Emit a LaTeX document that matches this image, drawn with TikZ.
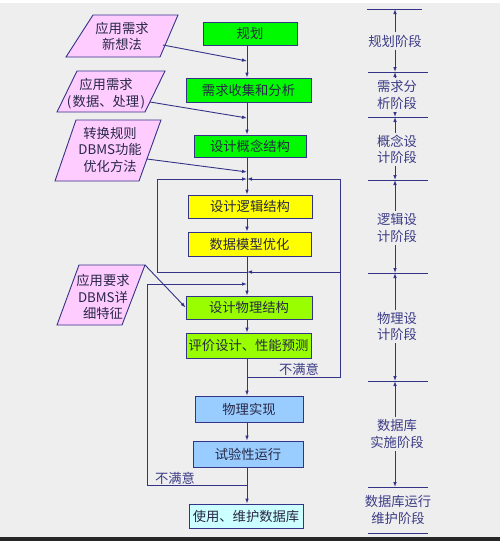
\documentclass[tikz,border=0pt]{standalone}
\usepackage{fontspec}
\setmainfont{Noto Sans CJK SC}
\usetikzlibrary{arrows.meta}
\definecolor{edge}{RGB}{51,51,136}
\definecolor{ink}{RGB}{40,40,70}
\definecolor{navy}{RGB}{60,60,135}
\definecolor{bg}{RGB}{238,238,238}
\definecolor{plangreen}{RGB}{0,250,0}
\definecolor{logicyellow}{RGB}{255,255,0}
\definecolor{physgreen}{RGB}{153,255,0}
\definecolor{implblue}{RGB}{153,204,255}
\definecolor{usecyan}{RGB}{204,255,255}
\definecolor{needpink}{RGB}{255,204,255}

\begin{document}
\begin{tikzpicture}[x=1pt,y=-1pt,line width=0.9pt,
    font=\fontsize{13.3}{16.5}\selectfont,
    >={Latex[length=5pt,width=3.6pt]},
    box/.style={draw=edge,text=ink,inner sep=0pt},
    need/.style={draw=edge,fill=needpink},
    conn/.style={draw=edge,->},
    tag/.style={text=navy,align=center,inner sep=2pt}]
    \fill[bg](0,0)rectangle(500,541);
    \fill[white](0,0)rectangle(500,2.5);
    \fill[black!85](0,537)rectangle(500,541);
    \useasboundingbox(0,0)rectangle(500,541);

    % design steps
    \node[box,fill=plangreen,minimum width=94pt,minimum height=23pt](plan)at(250,33.5){规划};
    \node[box,fill=plangreen,minimum width=125pt,minimum height=24pt](req)at(248.5,90){需求收集和分析};
    \node[box,fill=plangreen,minimum width=112pt,minimum height=22pt](concept)at(250,146){设计概念结构};
    \node[box,fill=logicyellow,minimum width=124pt,minimum height=23pt](logic)at(250,206.5){设计逻辑结构};
    \node[box,fill=logicyellow,minimum width=123pt,minimum height=24pt](optim)at(249.5,244){数据模型优化};
    \node[box,fill=physgreen,minimum width=126pt,minimum height=23pt](phys)at(249,307.5){设计物理结构};
    \node[box,fill=physgreen,minimum width=125pt,minimum height=25pt](eval)at(248.5,345.5){评价设计、性能预测};
    \node[box,fill=implblue,minimum width=108pt,minimum height=26pt](impl)at(249,409){物理实现};
    \node[box,fill=implblue,minimum width=110pt,minimum height=26pt](trial)at(248,454){试验性运行};
    \node[box,fill=usecyan,minimum width=114pt,minimum height=24pt](use)at(246,516){使用、维护数据库};

    % inputs
    \filldraw[need](93,15)--(178,15)--(160,57)--(66,57)--cycle;
    \node[text=ink,align=center](idea)at(122,36.5){应用需求\\新想法};
    \filldraw[need](77,71)--(165,71)--(145,112)--(57,112)--cycle;
    \node[text=ink,align=center](data)at(106,93.5){应用需求\\(\kern1.5pt数据、处理\kern1.5pt)};
    \filldraw[need](76,120)--(161,120)--(139,181)--(55,181)--cycle;
    \node[text=ink,align=center](rule)at(110,149.5){转换规则\\DBMS功能\\优化方法};
    \filldraw[need](79,265)--(145,265)--(122,325)--(57,325)--cycle;
    \node[text=ink,align=center](spec)at(103,297){应用要求\\DBMS详\\细特征};

    \coordinate(spine)at(247,0);
    \coordinate(ideaR)at(163,45);
    \coordinate(dataR)at(150,102);
    \coordinate(ruleR)at(147,159);
    \coordinate(specR)at(145,265);
    \coordinate(j1)at(247,61);
    \coordinate(j2)at(247,118);
    \coordinate(j3)at(247,172);
    \coordinate(topjoin)at(247,179);
    \coordinate(midjoin)at(247,272);
    \coordinate(physjoin)at(247,284);
    \coordinate(evaljoin)at(247,377);
    \coordinate(trialjoin)at(247,485);
    \coordinate(loopL)at(157,179);
    \coordinate(loopR)at(340,179);
    \coordinate(loopC)at(147,284);

    \draw[conn](plan.south-|spine)--(req.north-|spine);
    \draw[conn](req.south-|spine)--(concept.north-|spine);
    \draw[conn](concept.south-|spine)--(logic.north-|spine);
    \draw[conn](logic.south-|spine)--(optim.north-|spine);
    \draw[conn](optim.south-|spine)--(phys.north-|spine);
    \draw[conn](phys.south-|spine)--(eval.north-|spine);
    \draw[conn](eval.south-|spine)--(impl.north-|spine);
    \draw[conn](impl.south-|spine)--(trial.north-|spine);
    \draw[conn](trial.south-|spine)--(use.north-|spine);

    \draw[conn](ideaR)--(j1);
    \draw[conn](dataR)--(j2);
    \draw[conn](ruleR)--(j3);
    \draw[conn](specR)--(phys.west);

    % feedback loops
    \draw[conn](midjoin)-|(loopL)--(topjoin);
    \draw[conn](evaljoin)-|(loopR)--(topjoin);
    \draw[conn](loopR|-midjoin)--(midjoin);
    \draw[conn](trialjoin)-|(loopC)--(physjoin);
    \node[text=navy,inner sep=0pt](retry1)at(299,369){不满意};
    \node[text=navy,inner sep=0pt](retry2)at(175,478){不满意};

    % stages
    \draw[edge](367,9)--(422,9);
    \draw[edge](368,72)--(428,72);
    \draw[edge](368,117)--(428,117);
    \draw[edge](368,180)--(428,180);
    \draw[edge](368,273)--(428,273);
    \draw[edge](368,381)--(428,381);
    \draw[edge](368,487)--(428,487);
    \draw[edge](368,533)--(428,533);
    \coordinate(l0)at(395,9);
    \coordinate(l1)at(395,72);
    \coordinate(l2)at(395,117);
    \coordinate(l3)at(395,180);
    \coordinate(l4)at(395,273);
    \coordinate(l5)at(395,381);
    \coordinate(l6)at(395,487);
    \node[tag](s1)at(395,41){规划阶段};
    \node[tag](s2)at(397,95){需求分\\析阶段};
    \node[tag](s3)at(397,149.5){概念设\\计阶段};
    \node[tag](s4)at(397,228){逻辑设\\计阶段};
    \node[tag](s5)at(397,326.5){物理设\\计阶段};
    \node[tag](s6)at(397,434){数据库\\实施阶段};
    \node[tag](s7)at(398,510){数据库运行\\维护阶段};
    \draw[conn](s1.north-|l0)--(l0);
    \draw[conn](s1.south-|l1)--(l1);
    \draw[conn](s2.north-|l1)--(l1);
    \draw[conn](s2.south-|l2)--(l2);
    \draw[conn](s3.north-|l2)--(l2);
    \draw[conn](s3.south-|l3)--(l3);
    \draw[conn](s4.north-|l3)--(l3);
    \draw[conn](s4.south-|l4)--(l4);
    \draw[conn](s5.north-|l4)--(l4);
    \draw[conn](s5.south-|l5)--(l5);
    \draw[conn](s6.north-|l5)--(l5);
    \draw[conn](s6.south-|l6)--(l6);
\end{tikzpicture}
\end{document}
